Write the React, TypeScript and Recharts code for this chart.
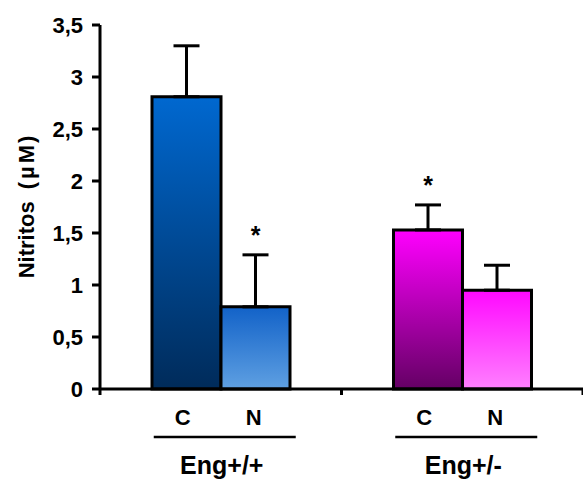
import { BarChart, Bar, XAxis, YAxis, ErrorBar, LabelList, Cell } from 'recharts'

const groups = ['Eng+/+', 'Eng+/-']
const valuesC = [2.81, 1.53]
const valuesN = [0.79, 0.95]
const errC = [0.49, 0.24]
const errN = [0.5, 0.24]
const starC = [false, true]
const starN = [true, false]
const yTicks = [0, 0.5, 1, 1.5, 2, 2.5, 3, 3.5]

const data = groups.map((g, i) => ({
  group: g,
  c: valuesC[i],
  n: valuesN[i],
  errC: [0, errC[i]],
  errN: [0, errN[i]],
  starC: starC[i] ? '*' : '',
  starN: starN[i] ? '*' : '',
}))

const FONT = '"Liberation Sans", Arial, sans-serif'

function GroupTick(props: any) {
  const { x, y, payload, index, width, visibleTicksCount } = props
  const half = width && visibleTicksCount ? width / visibleTicksCount / 2 : 120
  return (
    <g>
      <line x1={x - half} x2={x - half} y1={y} y2={y + 6} stroke="#000" strokeWidth={3} />
      {index === groups.length - 1 && (
        <line x1={x + half} x2={x + half} y1={y} y2={y + 6} stroke="#000" strokeWidth={3} />
      )}
      <text x={x - 38} y={y + 36} textAnchor="middle" fontFamily={FONT} fontWeight="bold" fontSize={22} fill="#000">C</text>
      <text x={x + 33} y={y + 36} textAnchor="middle" fontFamily={FONT} fontWeight="bold" fontSize={22} fill="#000">N</text>
      <line x1={x - 67} x2={x + 75} y1={y + 48} y2={y + 48} stroke="#000" strokeWidth={2.5} />
      <text x={x + 1} y={y + 85} textAnchor="middle" fontFamily={FONT} fontWeight="bold" fontSize={25} fill="#000">
        {payload.value}
      </text>
    </g>
  )
}

function ValueTick(props: any) {
  const { x, y, payload } = props
  return (
    <text x={x} y={y} dy={8} textAnchor="end" fontFamily={FONT} fontWeight="bold" fontSize={22} fill="#000">
      {String(payload.value).replace('.', ',')}
    </text>
  )
}

function makeStar(values: number[], errs: number[]) {
  return function Star(props: any) {
    const { x, y, width, height, value, index } = props
    if (!value) return null
    const perUnit = height / values[index]
    const errTop = y - errs[index] * perUnit
    return (
      <text x={x + width / 2} y={errTop - 11} textAnchor="middle" fontFamily={FONT} fontWeight="bold" fontSize={25} fill="#000">
        *
      </text>
    )
  }
}

function YLabel() {
  return (
    <text transform="translate(34, 207) rotate(-90)" textAnchor="middle" fontFamily={FONT} fontWeight="bold" fontSize={22} fill="#000">
      Nitritos<tspan dx={12}>(</tspan><tspan dx={3}>µ</tspan><tspan dx={3}>M</tspan><tspan dx={2}>)</tspan>
    </text>
  )
}

const fills = [
  ['url(#gC1)', 'url(#gN1)'],
  ['url(#gC2)', 'url(#gN2)'],
]

export default function App() {
  return (
    <div style={{ position: 'absolute', left: 0, top: 0, background: '#fff' }}>
      <BarChart
        width={583}
        height={480}
        data={data}
        margin={{ top: 25, right: 0, bottom: 0, left: 0 }}
        barGap={0}
        barSize={69}
      >
        <defs>
          <linearGradient id="gC1" x1="0" y1="0" x2="0" y2="1">
            <stop offset="0%" stopColor="#0068D0" />
            <stop offset="100%" stopColor="#002B5A" />
          </linearGradient>
          <linearGradient id="gN1" x1="0" y1="0" x2="0" y2="1">
            <stop offset="0%" stopColor="#1262C8" />
            <stop offset="100%" stopColor="#5FA0E2" />
          </linearGradient>
          <linearGradient id="gC2" x1="0" y1="0" x2="0" y2="1">
            <stop offset="0%" stopColor="#FF00FF" />
            <stop offset="100%" stopColor="#640064" />
          </linearGradient>
          <linearGradient id="gN2" x1="0" y1="0" x2="0" y2="1">
            <stop offset="0%" stopColor="#FF08FF" />
            <stop offset="100%" stopColor="#FF80FF" />
          </linearGradient>
        </defs>
        <XAxis
          dataKey="group"
          height={91}
          tickSize={0}
          tickMargin={0}
          axisLine={{ stroke: '#000', strokeWidth: 3 }}
          tickLine={false}
          tick={<GroupTick />}
          interval={0}
        />
        <YAxis
          width={100}
          domain={[0, 3.5]}
          ticks={yTicks}
          interval={0}
          tickSize={8}
          tickMargin={9}
          axisLine={{ stroke: '#000', strokeWidth: 3 }}
          tickLine={{ stroke: '#000', strokeWidth: 3 }}
          tick={<ValueTick />}
          label={<YLabel />}
        />
        <Bar dataKey="c" stroke="#000" strokeWidth={3} isAnimationActive={false}>
          {data.map((_, i) => (
            <Cell key={i} fill={fills[i][0]} />
          ))}
          <ErrorBar dataKey="errC" width={13} stroke="#000" strokeWidth={3} direction="y" />
          <LabelList dataKey="starC" content={makeStar(valuesC, errC)} />
        </Bar>
        <Bar dataKey="n" stroke="#000" strokeWidth={3} isAnimationActive={false}>
          {data.map((_, i) => (
            <Cell key={i} fill={fills[i][1]} />
          ))}
          <ErrorBar dataKey="errN" width={13} stroke="#000" strokeWidth={3} direction="y" />
          <LabelList dataKey="starN" content={makeStar(valuesN, errN)} />
        </Bar>
      </BarChart>
    </div>
  )
}
